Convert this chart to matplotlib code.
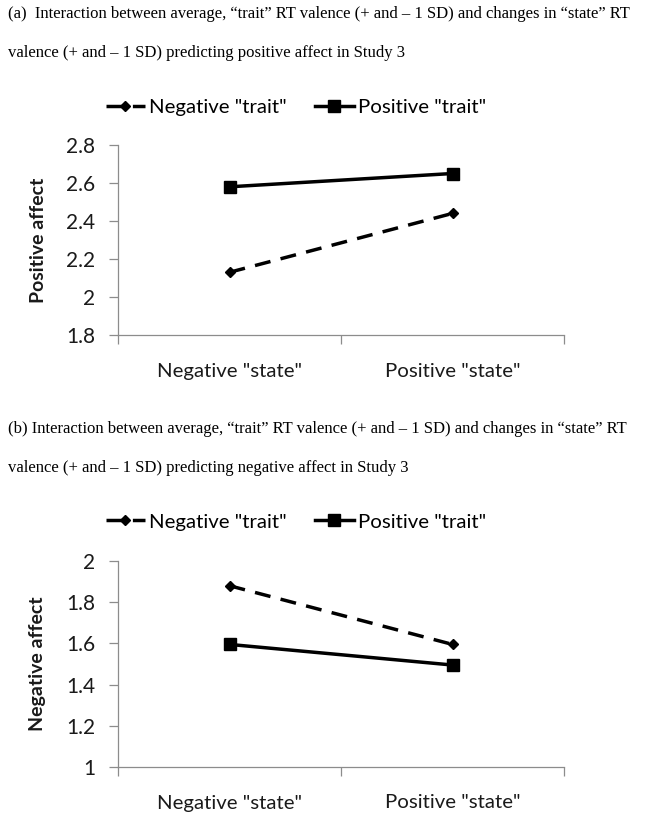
import matplotlib
matplotlib.use('Agg')
import matplotlib.pyplot as plt
import numpy as np

# data
categories = ['Negative "state"', 'Positive "state"']
series_names = ['Negative "trait"', 'Positive "trait"']

pos_neg_trait = [2.13, 2.44]
pos_pos_trait = [2.58, 2.65]
neg_neg_trait = [1.88, 1.595]
neg_pos_trait = [1.595, 1.495]

pos_ticks = [1.8, 2.0, 2.2, 2.4, 2.6, 2.8]
pos_ticklabels = ['1.8', '2', '2.2', '2.4', '2.6', '2.8']
neg_ticks = [1.0, 1.2, 1.4, 1.6, 1.8, 2.0]
neg_ticklabels = ['1', '1.2', '1.4', '1.6', '1.8', '2']

title_a = ['(a)  Interaction between average, \u201ctrait\u201d RT valence (+ and \u2013 1 SD) and changes in \u201cstate\u201d RT',
           'valence (+ and \u2013 1 SD) predicting positive affect in Study 3']
title_b = ['(b) Interaction between average, \u201ctrait\u201d RT valence (+ and \u2013 1 SD) and changes in \u201cstate\u201d RT',
           'valence (+ and \u2013 1 SD) predicting negative affect in Study 3']

W, H = 645, 818
fig = plt.figure(figsize=(W / 100, H / 100), dpi=100)
fig.patch.set_facecolor('white')

sans = ['Lato', 'DejaVu Sans']
serif = ['Liberation Serif', 'DejaVu Serif']
grey = '#8c8c8c'
txt = '#1a1a1a'


def px_axes(left, top, right, bottom):
    return fig.add_axes([left / W, (H - bottom) / H, (right - left) / W, (bottom - top) / H])


def draw_panel(ax, neg, pos, ticks, ticklabels, ylabel, legend_y, top, bottom):
    x = np.array([0.5, 1.5])
    l1, = ax.plot(x, neg, color='black', lw=2.5, ls=(0, (4.6, 3.0)), marker='D', ms=5.5,
                  label=series_names[0])
    l2, = ax.plot(x, pos, color='black', lw=2.5, ls='-', marker='s', ms=8,
                  label=series_names[1])
    ax.set_xlim(0, 2)
    ax.set_ylim(ticks[0], ticks[-1])
    ax.set_yticks(ticks)
    ax.set_yticklabels(ticklabels, fontfamily=sans, fontsize=15, color=txt)
    ax.set_xticks([0, 1, 2])
    ax.set_xticklabels([])
    for xi, c in zip(x, categories):
        fig.text(ax.get_position().x0 + xi / 2 * ax.get_position().width,
                 1 - (bottom + 36) / H, c, ha='center', va='center',
                 fontfamily=sans, fontsize=14.7, color=txt)
    for s in ['top', 'right']:
        ax.spines[s].set_visible(False)
    for s in ['left', 'bottom']:
        ax.spines[s].set_color(grey)
        ax.spines[s].set_linewidth(0.9)
    ax.tick_params(axis='both', direction='out', length=6.5, color=grey, width=0.9)
    ax.tick_params(axis='y', pad=10)
    fig.text(38 / W, 1 - (top + bottom) / 2 / H, ylabel, rotation=90, ha='center',
             va='center', fontfamily=sans, fontsize=14, fontweight='bold', color=txt)
    fig.legend(handles=[l1, l2], loc='center', bbox_to_anchor=(296 / W, 1 - legend_y / H),
               ncol=2, frameon=False, handlelength=1.9, handletextpad=0.2,
               columnspacing=1.4, prop={'family': sans, 'size': 14.7})


ax_a = px_axes(118, 145, 564, 335)
draw_panel(ax_a, pos_neg_trait, pos_pos_trait, pos_ticks, pos_ticklabels,
           'Positive affect', 107, 145, 335)

ax_b = px_axes(118, 561, 564, 767)
draw_panel(ax_b, neg_neg_trait, neg_pos_trait, neg_ticks, neg_ticklabels,
           'Negative affect', 522, 561, 767)

for y, line in zip([14, 53], title_a):
    fig.text(8 / W, 1 - y / H, line, ha='left', va='center',
             fontfamily=serif, fontsize=12)
for y, line in zip([429, 468], title_b):
    fig.text(8 / W, 1 - y / H, line, ha='left', va='center',
             fontfamily=serif, fontsize=12)

fig.savefig('out.png', dpi=100)
